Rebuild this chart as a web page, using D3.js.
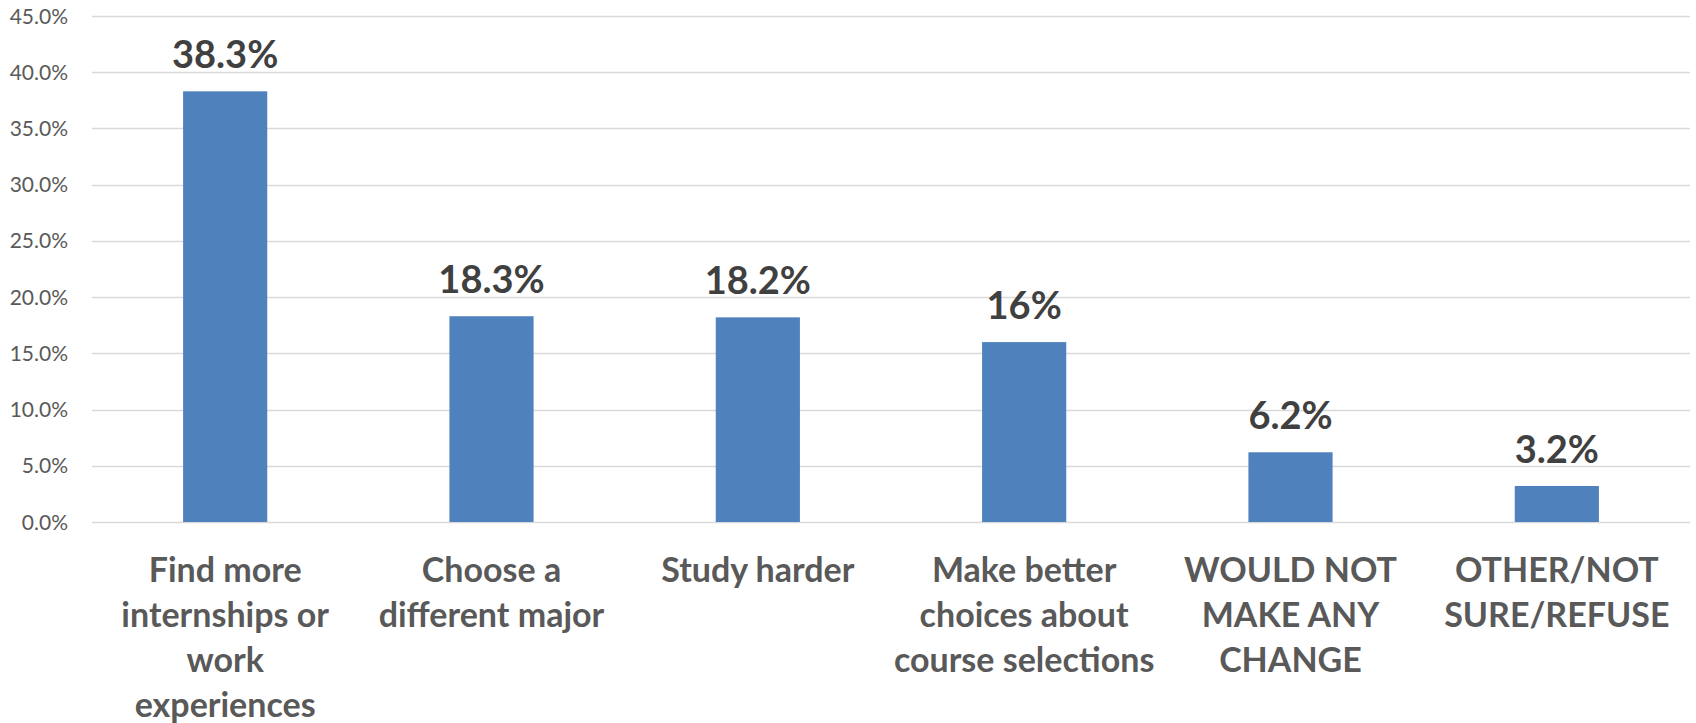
<!DOCTYPE html>
<html><head><meta charset="utf-8">
<script src="https://cdn.jsdelivr.net/npm/d3@7"></script>
<style>html,body{margin:0;padding:0;background:#fff;overflow:hidden}</style>
</head><body>
<svg id="chart" width="1696" height="723"></svg>
<script>
const categories = [
  ["Find more", "internships or", "work", "experiences"],
  ["Choose a", "different major"],
  ["Study harder"],
  ["Make better", "choices about", "course selections"],
  ["WOULD NOT", "MAKE ANY", "CHANGE"],
  ["OTHER/NOT", "SURE/REFUSE"]
];
const values = [38.3, 18.3, 18.2, 16, 6.2, 3.2];
const valueLabels = ["38.3%", "18.3%", "18.2%", "16%", "6.2%", "3.2%"];
const ticks = [0, 5, 10, 15, 20, 25, 30, 35, 40, 45];
const tickLabels = ["0.0%", "5.0%", "10.0%", "15.0%", "20.0%", "25.0%", "30.0%", "35.0%", "40.0%", "45.0%"];

const svg = d3.select("#chart");
const plotLeft = 92, plotRight = 1690, plotTop = 16, plotBottom = 522;
const font = "Lato, 'Open Sans', sans-serif";

const x = d3.scaleBand().domain(d3.range(values.length)).range([plotLeft, plotRight]).paddingInner(0.684).paddingOuter(0.342);
const y = d3.scaleLinear().domain([0, 45]).range([plotBottom, plotTop]);

// gridlines
svg.append("g").selectAll("line").data(ticks).join("line")
  .attr("x1", plotLeft).attr("x2", plotRight)
  .attr("y1", d => Math.round(y(d)) + 0.5).attr("y2", d => Math.round(y(d)) + 0.5)
  .attr("stroke", "#D9D9D9").attr("stroke-width", 1.5);

// y tick labels
svg.append("g").selectAll("text").data(ticks).join("text")
  .attr("x", 68).attr("y", d => y(d) + 7.5)
  .attr("text-anchor", "end")
  .attr("font-family", font).attr("font-size", 21).attr("fill", "#595959")
  .text((d, i) => tickLabels[i]);

// bars
svg.append("g").selectAll("rect").data(values).join("rect")
  .attr("x", (d, i) => x(i)).attr("width", x.bandwidth())
  .attr("y", d => y(d)).attr("height", d => y(0) - y(d))
  .attr("fill", "#4F81BD");

// data labels
svg.append("g").selectAll("text").data(values).join("text")
  .attr("x", (d, i) => x(i) + x.bandwidth() / 2)
  .attr("y", d => y(d) - 23)
  .attr("text-anchor", "middle")
  .attr("font-family", font).attr("font-weight", "bold").attr("font-size", 38).attr("fill", "#404040")
  .text((d, i) => valueLabels[i]);

// category labels
const cat = svg.append("g").selectAll("text").data(categories).join("text")
  .attr("text-anchor", "middle")
  .attr("font-family", font).attr("font-weight", "bold").attr("font-size", 34).attr("fill", "#595959");
cat.each(function(lines, i) {
  const t = d3.select(this);
  lines.forEach((ln, j) => {
    t.append("tspan").attr("x", x(i) + x.bandwidth() / 2).attr("y", 582 + j * 45).text(ln);
  });
});
</script>
</body></html>
